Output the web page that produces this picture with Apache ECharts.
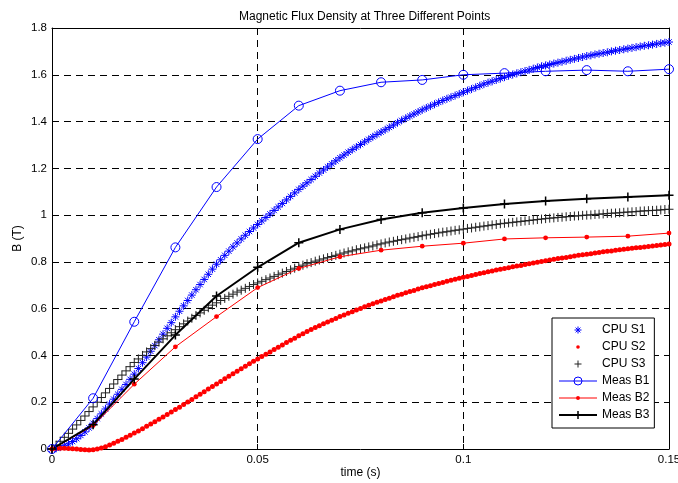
<!DOCTYPE html>
<html>
<head>
<meta charset="utf-8">
<script src="https://cdn.jsdelivr.net/npm/echarts@6/dist/echarts.min.js"></script>
<style>
  html, body { margin: 0; padding: 0; background: #fff; }
  #chart { width: 678px; height: 483px; }
</style>
</head>
<body>
<div id="chart"></div>
<script>
// Measured flux density, sampled every 10 ms
const measTime = [0, 0.01, 0.02, 0.03, 0.04, 0.05, 0.06, 0.07, 0.08, 0.09, 0.10, 0.11, 0.12, 0.13, 0.14, 0.15];
const measB1 = [0, 0.217, 0.544, 0.862, 1.12, 1.325, 1.468, 1.532, 1.568, 1.578, 1.600, 1.607, 1.615, 1.620, 1.615, 1.624];
const measB2 = [0, 0.100, 0.277, 0.437, 0.566, 0.690, 0.772, 0.822, 0.850, 0.867, 0.880, 0.898, 0.903, 0.906, 0.910, 0.923];
const measB3 = [0, 0.104, 0.299, 0.487, 0.654, 0.777, 0.882, 0.939, 0.981, 1.010, 1.030, 1.047, 1.060, 1.070, 1.077, 1.085];

// Computed flux density, one value per 1 ms from t = 0
const cpuStep = 0.001;
const cpuS1 = [0,
  0.003, 0.008, 0.014, 0.022, 0.032, 0.044, 0.058, 0.073, 0.090, 0.110,
  0.130, 0.150, 0.171, 0.192, 0.213, 0.234, 0.255, 0.276, 0.298, 0.320,
  0.344, 0.369, 0.393, 0.418, 0.442, 0.467, 0.491, 0.516, 0.540, 0.565,
  0.589, 0.612, 0.635, 0.658, 0.681, 0.703, 0.725, 0.747, 0.769, 0.790,
  0.809, 0.828, 0.846, 0.864, 0.881, 0.898, 0.914, 0.930, 0.945, 0.960,
  0.975, 0.990, 1.005, 1.020, 1.035, 1.050, 1.065, 1.080, 1.095, 1.110,
  1.124, 1.138, 1.152, 1.166, 1.180, 1.193, 1.206, 1.219, 1.232, 1.245,
  1.257, 1.269, 1.280, 1.291, 1.302, 1.313, 1.324, 1.335, 1.345, 1.355,
  1.365, 1.375, 1.385, 1.395, 1.405, 1.414, 1.423, 1.432, 1.441, 1.450,
  1.458, 1.466, 1.474, 1.482, 1.490, 1.497, 1.504, 1.511, 1.518, 1.525,
  1.532, 1.539, 1.546, 1.553, 1.560, 1.566, 1.572, 1.578, 1.584, 1.590,
  1.596, 1.601, 1.606, 1.611, 1.616, 1.621, 1.626, 1.631, 1.636, 1.640,
  1.644, 1.648, 1.652, 1.656, 1.660, 1.664, 1.668, 1.672, 1.676, 1.680,
  1.683, 1.687, 1.690, 1.693, 1.696, 1.700, 1.703, 1.706, 1.709, 1.712,
  1.715, 1.718, 1.721, 1.724, 1.726, 1.729, 1.732, 1.735, 1.737, 1.740];
const cpuS2 = [0,
  0.002, 0.003, 0.003, 0.002, 0.001, 0.000, -0.002, -0.003, -0.004, -0.003,
  0.000, 0.004, 0.010, 0.017, 0.025, 0.033, 0.041, 0.050, 0.059, 0.068,
  0.077, 0.087, 0.097, 0.107, 0.117, 0.127, 0.137, 0.148, 0.158, 0.169,
  0.179, 0.190, 0.201, 0.212, 0.223, 0.234, 0.245, 0.256, 0.267, 0.278,
  0.289, 0.300, 0.311, 0.322, 0.332, 0.343, 0.354, 0.364, 0.375, 0.385,
  0.395, 0.405, 0.415, 0.425, 0.435, 0.445, 0.455, 0.465, 0.474, 0.484,
  0.493, 0.502, 0.511, 0.519, 0.527, 0.535, 0.543, 0.551, 0.558, 0.566,
  0.573, 0.580, 0.587, 0.594, 0.601, 0.608, 0.615, 0.621, 0.627, 0.633,
  0.639, 0.645, 0.651, 0.657, 0.662, 0.668, 0.673, 0.678, 0.684, 0.689,
  0.694, 0.698, 0.703, 0.708, 0.712, 0.717, 0.721, 0.726, 0.730, 0.734,
  0.738, 0.742, 0.746, 0.750, 0.754, 0.758, 0.761, 0.765, 0.768, 0.772,
  0.775, 0.779, 0.782, 0.785, 0.789, 0.792, 0.795, 0.798, 0.802, 0.805,
  0.808, 0.811, 0.814, 0.817, 0.819, 0.822, 0.825, 0.828, 0.830, 0.833,
  0.835, 0.838, 0.840, 0.843, 0.845, 0.847, 0.850, 0.852, 0.854, 0.856,
  0.858, 0.860, 0.862, 0.864, 0.866, 0.868, 0.870, 0.872, 0.874, 0.876];
const cpuS3 = [0,
  0.016, 0.033, 0.050, 0.067, 0.085, 0.103, 0.122, 0.141, 0.160, 0.180,
  0.200, 0.220, 0.240, 0.259, 0.278, 0.297, 0.316, 0.334, 0.352, 0.370,
  0.385, 0.400, 0.415, 0.429, 0.443, 0.457, 0.471, 0.484, 0.497, 0.510,
  0.523, 0.535, 0.547, 0.559, 0.571, 0.582, 0.593, 0.604, 0.615, 0.625,
  0.635, 0.644, 0.653, 0.662, 0.671, 0.679, 0.687, 0.695, 0.703, 0.710,
  0.717, 0.724, 0.731, 0.738, 0.745, 0.752, 0.759, 0.766, 0.773, 0.780,
  0.786, 0.792, 0.797, 0.803, 0.808, 0.813, 0.818, 0.823, 0.828, 0.833,
  0.838, 0.843, 0.847, 0.852, 0.856, 0.860, 0.864, 0.868, 0.873, 0.877,
  0.881, 0.885, 0.888, 0.892, 0.895, 0.898, 0.902, 0.905, 0.908, 0.912,
  0.915, 0.918, 0.921, 0.924, 0.927, 0.929, 0.932, 0.935, 0.937, 0.940,
  0.943, 0.945, 0.948, 0.950, 0.953, 0.955, 0.958, 0.960, 0.963, 0.965,
  0.967, 0.969, 0.971, 0.973, 0.975, 0.977, 0.979, 0.981, 0.983, 0.985,
  0.987, 0.988, 0.990, 0.991, 0.993, 0.994, 0.996, 0.997, 0.999, 1.000,
  1.001, 1.003, 1.004, 1.005, 1.007, 1.008, 1.009, 1.010, 1.012, 1.013,
  1.014, 1.015, 1.017, 1.018, 1.019, 1.020, 1.021, 1.022, 1.024, 1.025];

// Axis tick labels and series names
const xTickLabels = ['0', '0.05', '0.1', '0.15'];
const yTickLabels = ['0', '0.2', '0.4', '0.6', '0.8', '1', '1.2', '1.4', '1.6', '1.8'];
const seriesNames = ['CPU S1', 'CPU S2', 'CPU S3', 'Meas B1', 'Meas B2', 'Meas B3'];

const FONT = 'Liberation Sans, Arial, Helvetica, sans-serif';
// Marker shapes; the leading moves pad the box so the mark sits smaller inside it
const PLUS = 'path://M5,0L5,10M0,5L10,5';
const ASTERISK = 'path://M5,0L5,10M0,5L10,5M1.6,1.6L8.4,8.4M8.4,1.6L1.6,8.4';
const DOT = 'path://M0,0M10,10M5,2.6A2.4,2.4,0,1,1,5,7.4A2.4,2.4,0,1,1,5,2.6Z';
const ICON_ASTERISK = 'path://M0,0M10,10M5,1.5L5,8.5M1.5,5L8.5,5M2.6,2.6L7.4,7.4M7.4,2.6L2.6,7.4';
const ICON_DOT = 'path://M0,0M10,10M5,3.2A1.8,1.8,0,1,1,5,6.8A1.8,1.8,0,1,1,5,3.2Z';
const ICON_PLUS = 'path://M0,0M10,10M5,1.5L5,8.5M1.5,5L8.5,5';

const pairs = (xs, ys) => ys.map((v, i) => [xs[i], v]);
const cpuPairs = ys => ys.map((v, i) => [i * cpuStep, v]);

const X_STEP = 0.05, Y_STEP = 0.2;

const boxAxis = {
  axisLine: { show: true, onZero: false, lineStyle: { color: '#000', width: 1 } },
  axisTick: { show: true, inside: true, length: 5, lineStyle: { color: '#000', width: 1 } }
};
const gridLine = { show: true, lineStyle: { color: '#000', width: 1, type: [7, 5] } };

const chart = echarts.init(document.getElementById('chart'), null, { renderer: 'canvas' });
chart.setOption({
  animation: false,
  backgroundColor: '#fff',
  title: {
    text: 'Magnetic Flux Density at Three Different Points',
    left: 234, top: 6,
    textStyle: { fontFamily: FONT, fontSize: 12, fontWeight: 'normal', color: '#000' }
  },
  grid: { left: 52, top: 28, width: 617, height: 421, containLabel: false, outerBoundsMode: 'none' },
  legend: {
    orient: 'vertical',
    left: 552, top: 318,
    padding: [6, 5, 7, 6],
    itemWidth: 38, itemHeight: 10, itemGap: 5,
    backgroundColor: '#fff',
    borderColor: '#000', borderWidth: 1, borderRadius: 0,
    textStyle: { fontFamily: FONT, fontSize: 12, lineHeight: 12, color: '#000' },
    data: [
      { name: seriesNames[0], icon: ICON_ASTERISK, itemStyle: { borderWidth: 1 } },
      { name: seriesNames[1], icon: ICON_DOT, itemStyle: { borderWidth: 0 } },
      { name: seriesNames[2], icon: ICON_PLUS, itemStyle: { borderWidth: 1 } },
      { name: seriesNames[3], lineStyle: { width: 1 }, itemStyle: { borderWidth: 1 } },
      { name: seriesNames[4], lineStyle: { width: 1 }, itemStyle: { borderWidth: 0 } },
      { name: seriesNames[5], lineStyle: { width: 2 }, itemStyle: { borderWidth: 1.5 } }
    ]
  },
  xAxis: [
    Object.assign({
      type: 'value', position: 'bottom', min: 0, max: 0.15, interval: X_STEP,
      name: 'time (s)', nameLocation: 'middle', nameGap: 18, nameMoveOverlap: false,
      nameTextStyle: { fontFamily: FONT, fontSize: 12, color: '#000' },
      axisLabel: {
        fontFamily: FONT, fontSize: 11.5, color: '#000', margin: 5,
        formatter: v => xTickLabels[Math.round(v / X_STEP)]
      },
      splitLine: gridLine
    }, boxAxis),
    Object.assign({
      type: 'value', position: 'top', min: 0, max: 0.15, interval: X_STEP,
      axisLabel: { show: false }, splitLine: { show: false }
    }, boxAxis)
  ],
  yAxis: [
    Object.assign({
      type: 'value', position: 'left', min: 0, max: 1.8, interval: Y_STEP,
      name: 'B (T)', nameLocation: 'middle', nameGap: 28, nameRotate: 90, nameMoveOverlap: false,
      nameTextStyle: { fontFamily: FONT, fontSize: 12, color: '#000' },
      axisLabel: {
        fontFamily: FONT, fontSize: 11.5, color: '#000', margin: 5,
        formatter: v => yTickLabels[Math.round(v / Y_STEP)]
      },
      splitLine: gridLine
    }, boxAxis),
    Object.assign({
      type: 'value', position: 'right', min: 0, max: 1.8, interval: Y_STEP,
      axisLabel: { show: false }, splitLine: { show: false }
    }, boxAxis)
  ],
  series: [
    {
      name: seriesNames[0], type: 'scatter', data: cpuPairs(cpuS1), clip: false,
      symbol: ASTERISK, symbolSize: 8,
      itemStyle: { color: '#0000ff', borderColor: '#0000ff', borderWidth: 1, opacity: 1 }
    },
    {
      name: seriesNames[1], type: 'scatter', data: cpuPairs(cpuS2), clip: false,
      symbol: 'circle', symbolSize: 5,
      itemStyle: { color: '#ff0000', borderWidth: 0, opacity: 1 }
    },
    {
      name: seriesNames[2], type: 'scatter', data: cpuPairs(cpuS3), clip: false,
      symbol: PLUS, symbolSize: 9,
      itemStyle: { color: '#222', borderColor: '#222', borderWidth: 1, opacity: 1 }
    },
    {
      name: seriesNames[3], type: 'line', data: pairs(measTime, measB1),
      symbol: 'circle', symbolSize: 9, showAllSymbol: true,
      lineStyle: { color: '#0000ff', width: 1 },
      itemStyle: { color: 'rgba(255,255,255,0)', borderColor: '#0000ff', borderWidth: 1 }
    },
    {
      name: seriesNames[4], type: 'line', data: pairs(measTime, measB2),
      symbol: DOT, symbolSize: 10, showAllSymbol: true,
      lineStyle: { color: '#ff0000', width: 1 },
      itemStyle: { color: '#ff0000', borderWidth: 0 }
    },
    {
      name: seriesNames[5], type: 'line', data: pairs(measTime, measB3),
      symbol: PLUS, symbolSize: 9, showAllSymbol: true,
      lineStyle: { color: '#000', width: 2 },
      itemStyle: { color: '#000', borderColor: '#000', borderWidth: 1.5 }
    }
  ]
});
</script>
</body>
</html>
